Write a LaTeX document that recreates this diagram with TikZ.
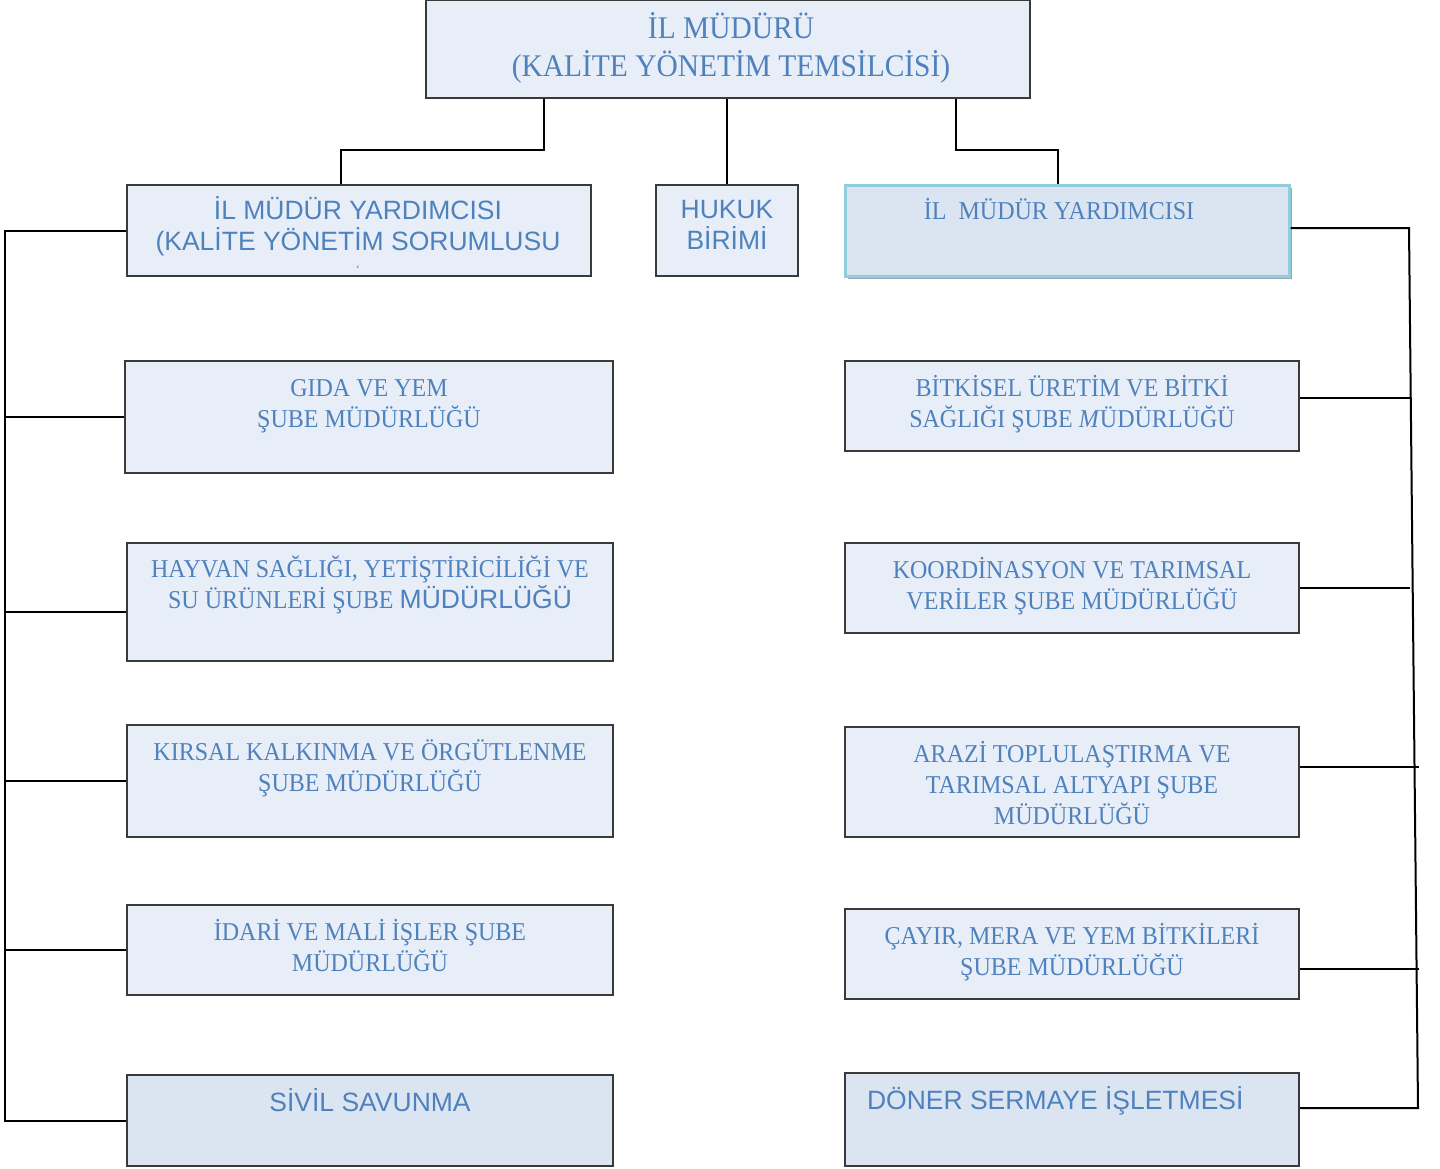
\documentclass[tikz,border=0pt]{standalone}
\usepackage{fontspec}
\setmainfont[FakeStretch=0.935]{Liberation Serif}
\setsansfont{Liberation Sans}
\usetikzlibrary{positioning}

\definecolor{yaziMavi}{HTML}{4F81BD}
\definecolor{kutuDolgu}{HTML}{E7EEF8}
\definecolor{kutuKoyu}{HTML}{DBE5F1}
\definecolor{kenarGri}{HTML}{3A3A3A}
\definecolor{kenarTurkuaz}{HTML}{92CDDC}
\definecolor{golge}{HTML}{8FA9B8}

\newcommand{\duzFont}{\sffamily\fontsize{26.5}{31}\selectfont}

\tikzset{
  kutu/.style={draw=kenarGri, line width=1.5pt, fill=kutuDolgu, inner sep=0pt},
  koyuKutu/.style={kutu, fill=kutuKoyu},
  yazi/.style={text=yaziMavi, align=center, inner sep=0pt, text height=17pt, text depth=0pt,
    font=\fontsize{25.7}{31}\selectfont},
  ustYazi/.style={yazi, text height=20.9pt, font=\fontsize{31.5}{38}\selectfont},
  duzYazi/.style={yazi, text height=19pt, font=\duzFont},
}

\begin{document}
\begin{tikzpicture}[x=1pt,y=-1pt,line width=2pt]
\fill[white] (0,0) rectangle (1440,1168);
\useasboundingbox (0,0) rectangle (1440,1168);
%
\draw (728,49) node[kutu,minimum width=604pt,minimum height=98pt] (ilMuduru) {};
\draw (731,66) node[ustYazi] (ilMuduruYazi) {İL MÜDÜRÜ\\(KALİTE YÖNETİM TEMSİLCİSİ)};
%
\draw (359,230.5) node[kutu,minimum width=464pt,minimum height=91pt] (ilYrd1) {};
\draw (358,241) node[duzYazi] (ilYrd1Yazi) {İL MÜDÜR YARDIMCISI\\(KALİTE YÖNETİM SORUMLUSU};
\draw (358,265) node[yazi,font=\fontsize{12}{12}\selectfont] (ilYrd1Isaret) {`};
\draw (727,230.5) node[kutu,minimum width=142pt,minimum height=91pt] (hukuk) {};
\draw (727,240) node[duzYazi] (hukukYazi) {HUKUK\\BİRİMİ};
\draw (1070,233.5) node[fill=golge,inner sep=0pt,minimum width=444pt,minimum height=91pt] (ilYrd2Golge) {};
\draw (1067,230.5) node[kutu,fill=kutuKoyu,draw=kenarTurkuaz,line width=3pt,
  minimum width=444pt,minimum height=91pt] (ilYrd2) {};
\draw (1059,211) node[yazi] (ilYrd2Yazi) {İL~~MÜDÜR YARDIMCISI};
%
\path[draw] ([xshift=-184pt]ilMuduru.south) -- ++(0,51) -| ([xshift=-18pt]ilYrd1.north);
\path[draw] (ilMuduru.south -| hukuk.north) -- (hukuk.north);
\path[draw] ([xshift=228pt]ilMuduru.south) -- ++(0,51) -| ([xshift=-9pt]ilYrd2.north);
%
\draw (369,417) node[kutu,minimum width=488pt,minimum height=112pt] (gida) {};
\draw (369,419) node[yazi] (gidaYazi) {GIDA VE YEM\\ŞUBE MÜDÜRLÜĞÜ};
\draw (370,602) node[kutu,minimum width=486pt,minimum height=118pt] (hayvan) {};
\draw (370,600) node[yazi] (hayvanYazi) {HAYVAN SAĞLIĞI, YETİŞTİRİCİLİĞİ VE\\SU ÜRÜNLERİ ŞUBE {\duzFont MÜDÜRLÜĞÜ}};
\draw (370,781) node[kutu,minimum width=486pt,minimum height=112pt] (kirsal) {};
\draw (370,783) node[yazi] (kirsalYazi) {KIRSAL KALKINMA VE ÖRGÜTLENME\\ŞUBE MÜDÜRLÜĞÜ};
\draw (370,950) node[kutu,minimum width=486pt,minimum height=90pt] (idari) {};
\draw (370,963) node[yazi] (idariYazi) {İDARİ VE MALİ İŞLER ŞUBE\\MÜDÜRLÜĞÜ};
\draw (370,1120.5) node[koyuKutu,minimum width=486pt,minimum height=91pt] (sivil) {};
\draw (370,1102) node[duzYazi] (sivilYazi) {SİVİL SAVUNMA};
%
\path[draw] (ilYrd1.west) -- ++(-121,0) coordinate (solBus) |- (sivil.west);
\path[draw] (gida.west) -- (gida.west -| solBus);
\path[draw] ([yshift=-10pt]hayvan.west) -- ([yshift=-10pt]hayvan.west -| solBus);
\path[draw] (kirsal.west) -- (kirsal.west -| solBus);
\path[draw] (idari.west) -- (idari.west -| solBus);
%
\draw (1072,406) node[kutu,minimum width=454pt,minimum height=90pt] (bitki) {};
\draw (1072,419) node[yazi] (bitkiYazi) {BİTKİSEL ÜRETİM VE BİTKİ\\SAĞLIĞI ŞUBE \textit{M}ÜDÜRLÜĞÜ};
\draw (1072,588) node[kutu,minimum width=454pt,minimum height=90pt] (koord) {};
\draw (1072,601) node[yazi] (koordYazi) {KOORDİNASYON VE TARIMSAL\\VERİLER ŞUBE MÜDÜRLÜĞÜ};
\draw (1072,782) node[kutu,minimum width=454pt,minimum height=110pt] (arazi) {};
\draw (1072,816) node[yazi] (araziYazi) {ARAZİ TOPLULAŞTIRMA VE\\TARIMSAL ALTYAPI ŞUBE\\MÜDÜRLÜĞÜ};
\draw (1072,954) node[kutu,minimum width=454pt,minimum height=90pt] (cayir) {};
\draw (1072,967) node[yazi] (cayirYazi) {ÇAYIR, MERA VE YEM BİTKİLERİ\\ŞUBE MÜDÜRLÜĞÜ};
\draw (1072,1119.5) node[koyuKutu,minimum width=454pt,minimum height=93pt] (doner) {};
\draw (866,1100) node[duzYazi,anchor=west] (donerYazi) {DÖNER SERMAYE İŞLETMESİ};
%
\coordinate (sagUst) at (1409,228);
\coordinate (sagAlt) at (1418,1108);
\path[draw] (ilYrd2.east |- sagUst) -- (sagUst) -- (sagAlt) -- (doner.east |- sagAlt);
\path[draw] ([yshift=8pt]bitki.east) -- ++(110,0);
\path[draw] (koord.east) -- ++(110,0);
\path[draw] ([yshift=15pt]arazi.east) -- ++(119,0);
\path[draw] ([yshift=-15pt]cayir.east) -- ++(119,0);
\end{tikzpicture}
\end{document}
